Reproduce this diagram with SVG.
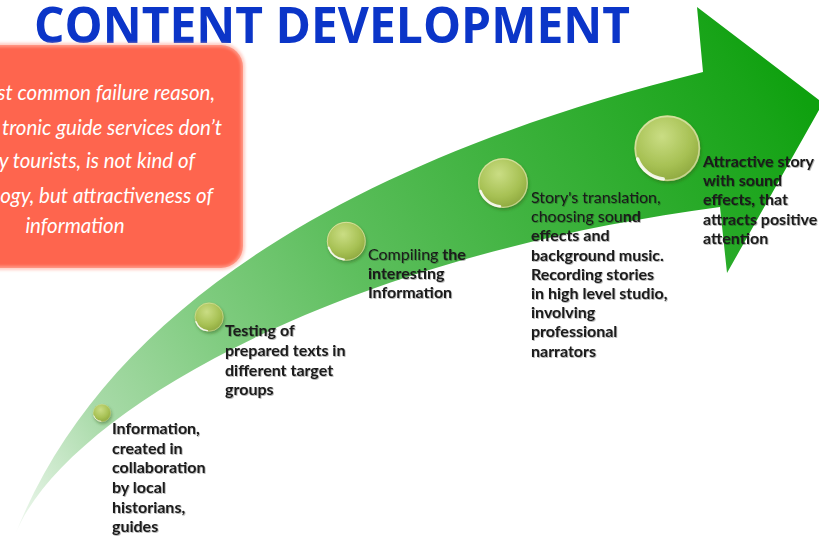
<svg xmlns="http://www.w3.org/2000/svg" xmlns:xlink="http://www.w3.org/1999/xlink" width="819" height="537" viewBox="0 0 819 537">
  <defs>
    <style>
      .title { font-family: "Open Sans", "Liberation Sans", sans-serif; font-weight: 700; font-size: 50px; fill: #0b35c8; }
      .note { font-family: Lato, "Liberation Sans", sans-serif; font-style: italic; font-size: 20.5px; fill: #ffffff; }
      .label { font-family: Lato, "Liberation Sans", sans-serif; font-weight: 700; font-size: 16px; fill: #1a1a1a; filter: url(#textShadow); }
      .thin { font-weight: 400; }
    </style>
    <linearGradient id="arrowFill" gradientUnits="userSpaceOnUse" x1="15" y1="535" x2="780" y2="60">
      <stop offset="0" stop-color="#f2f9f2"/>
      <stop offset="0.15" stop-color="#a8daa8"/>
      <stop offset="0.31" stop-color="#80cc80"/>
      <stop offset="0.485" stop-color="#5cbe5c"/>
      <stop offset="0.667" stop-color="#40b340"/>
      <stop offset="0.95" stop-color="#18a418"/>
      <stop offset="1" stop-color="#0fa10f"/>
    </linearGradient>
    <radialGradient id="ballFill" cx="0.42" cy="0.32" r="0.75">
      <stop offset="0" stop-color="#cadd84"/>
      <stop offset="0.6" stop-color="#a7c154"/>
      <stop offset="1" stop-color="#89a33a"/>
    </radialGradient>
    <filter id="soft" x="-10%" y="-10%" width="120%" height="120%">
      <feGaussianBlur stdDeviation="1.5"/>
    </filter>
    <filter id="ballShadow" x="-30%" y="-30%" width="160%" height="160%">
      <feDropShadow dx="1" dy="2" stdDeviation="1.5" flood-color="#2d5a1a" flood-opacity="0.45"/>
    </filter>
    <filter id="textShadow" x="-5%" y="-20%" width="110%" height="140%">
      <feDropShadow dx="0.8" dy="0.8" stdDeviation="0.6" flood-color="#000" flood-opacity="0.35"/>
    </filter>
    <symbol id="ball" viewBox="-52 -52 104 104" overflow="visible">
      <circle r="50" fill="url(#ballFill)"/>
      <circle r="48.5" fill="none" stroke="#eef4cf" stroke-width="2.5" opacity="0.55"/>
      <path d="M -45,16 A 47 47 0 0 0 -6,46.5" fill="none" stroke="#ffffff" stroke-width="5" stroke-linecap="round" opacity="0.85"/>
    </symbol>
  </defs>

  <rect width="819" height="537" fill="#ffffff"/>

  <!-- heading -->
  <g id="title">
    <text class="title" x="34" y="43" textLength="596" lengthAdjust="spacingAndGlyphs">CONTENT DEVELOPMENT</text>
  </g>

  <!-- red note box -->
  <g id="note">
    <rect x="-30" y="45" width="273" height="223" rx="22" fill="#fe654e"/>
    <rect x="-30" y="45" width="273" height="223" rx="22" fill="none" stroke="#ffb3a5" stroke-width="4" opacity="0.7" filter="url(#soft)"/>
    <text class="note" x="215" y="100" text-anchor="end">st common failure reason,</text>
    <text class="note" x="222" y="135" text-anchor="end">tronic guide services don’t</text>
    <text class="note" x="195" y="168" text-anchor="end">y tourists, is not kind of</text>
    <text class="note" x="213" y="203" text-anchor="end">ogy, but attractiveness of</text>
    <text class="note" x="75" y="233" text-anchor="middle">information</text>
  </g>

  <!-- curved progress arrow -->
  <g id="connectors">
    <path d="M15,535 C100,320 330,165 703,72 L697,7 L823,103 L727,273 L720,207 C320,260 60,420 15,535 Z" fill="url(#arrowFill)"/>
  </g>

  <g id="step1">
    <use href="#ball" x="92.6" y="403.6" width="18.7" height="18.7" filter="url(#ballShadow)"/>
    <text class="label">
      <tspan x="112" y="434">Information,</tspan>
      <tspan x="112" y="454">created in</tspan>
      <tspan x="112" y="473">collaboration</tspan>
      <tspan x="112" y="493">by local</tspan>
      <tspan x="112" y="513">historians,</tspan>
      <tspan x="112" y="532">guides</tspan>
    </text>
  </g>

  <g id="step2">
    <use href="#ball" x="194" y="302" width="30.2" height="30.2" filter="url(#ballShadow)"/>
    <text class="label">
      <tspan x="225" y="336">Testing of</tspan>
      <tspan x="225" y="356">prepared texts in</tspan>
      <tspan x="225" y="376">different target</tspan>
      <tspan x="225" y="395">groups</tspan>
    </text>
  </g>

  <g id="step3">
    <use href="#ball" x="326" y="221" width="40.6" height="40.6" filter="url(#ballShadow)"/>
    <text class="label">
      <tspan x="368" y="260"><tspan class="thin">Compiling</tspan> the</tspan>
      <tspan x="368" y="279">interesting</tspan>
      <tspan x="368" y="298">Information</tspan>
    </text>
  </g>

  <g id="step4">
    <use href="#ball" x="477" y="157" width="52" height="52" filter="url(#ballShadow)"/>
    <text class="label">
      <tspan x="531" y="203" class="thin">Story's translation,</tspan>
      <tspan x="531" y="222"><tspan class="thin">choosing sou</tspan>nd</tspan>
      <tspan x="531" y="241">effects and</tspan>
      <tspan x="531" y="261">background music.</tspan>
      <tspan x="531" y="280">Recording stories</tspan>
      <tspan x="531" y="299">in high level studio,</tspan>
      <tspan x="531" y="318">involving</tspan>
      <tspan x="531" y="337">professional</tspan>
      <tspan x="531" y="357">narrators</tspan>
    </text>
  </g>

  <g id="step5">
    <use href="#ball" x="633" y="114" width="68.6" height="68.6" filter="url(#ballShadow)"/>
    <text class="label">
      <tspan x="703" y="167">Attractive story</tspan>
      <tspan x="703" y="186">with sound</tspan>
      <tspan x="703" y="205">effects, that</tspan>
      <tspan x="703" y="225">attracts positive</tspan>
      <tspan x="703" y="244">attention</tspan>
    </text>
  </g>
</svg>
